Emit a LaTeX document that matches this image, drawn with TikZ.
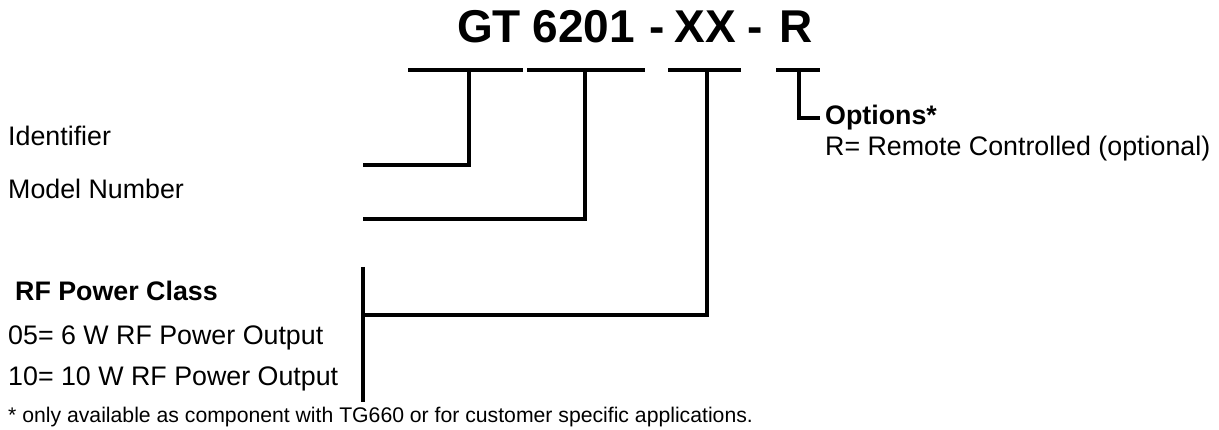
\documentclass[tikz,border=0pt]{standalone}
\usepackage{fontspec}
\setmainfont{Liberation Sans}
\begin{document}
\begin{tikzpicture}[x=1pt,y=-1pt,
  conn/.style={line width=4pt,line join=miter,line cap=butt},
  lbl/.style={inner sep=0pt,anchor=base west,font=\fontsize{26.8}{31}\selectfont},
  lblb/.style={lbl,font=\fontsize{26.8}{31}\selectfont\bfseries},
  foot/.style={inner sep=0pt,anchor=base west,font=\fontsize{21.2}{25}\selectfont},
  ttl/.style={inner sep=0pt,anchor=base,font=\fontsize{46}{50}\selectfont\bfseries}]
\useasboundingbox (0,0) rectangle (1219,430);
% title pieces
\node[ttl] (tGT) at (489,43) {GT};
\node[ttl] (t62) at (584,43) {6201};
\node[ttl] (th1) at (657,43) {-};
\node[ttl] (tXX) at (705,43) {XX};
\node[ttl] (th2) at (755,43) {-};
\node[ttl] (tR) at (796,43) {R};
% bars under title
\coordinate (b1l) at (408,70); \coordinate (b1r) at (523,70);
\coordinate (b2l) at (527,70); \coordinate (b2r) at (645,70);
\coordinate (b3l) at (668,70); \coordinate (b3r) at (741,70);
\coordinate (b4l) at (776,70); \coordinate (b4r) at (820,70);
\draw[conn] (b1l) -- (b1r);
\draw[conn] (b2l) -- (b2r);
\draw[conn] (b3l) -- (b3r);
\draw[conn] (b4l) -- (b4r);
\coordinate (v1) at (469,70);
\coordinate (v2) at (585,70);
\coordinate (v3) at (707,70);
\coordinate (v4) at (799,70);
% labels
\node[lbl] (id) at (8,146) {Identifier};
\node[lbl] (mn) at (8,199) {Model Number};
\node[lblb] (rf) at (15,301) {RF Power Class};
\node[lbl] (p05) at (8,345) {05= 6 W RF Power Output};
\node[lbl] (p10) at (8,385) {10= 10 W RF Power Output};
\node[lblb] (opt) at (825,125) {Options*};
\node[lbl] (rem) at (825,156) {R= Remote Controlled (optional)};
\node[foot] (fn) at (8,423) {* only available as component with TG660 or for customer specific applications.};
% connector end points
\coordinate (idE) at (363,165);
\coordinate (mnE) at (363,219);
\coordinate (rfT) at (363,267);
\coordinate (rfB) at (363,402);
\coordinate (rfE) at (363,315);
\coordinate (optE) at (820,118);
% connectors
\draw[conn] (idE) -| (v1);
\draw[conn] (mnE) -| (v2);
\draw[conn] (rfT) -- (rfB);
\draw[conn] (rfE) -| (v3);
\draw[conn] (optE) -| (v4);
\end{tikzpicture}
\end{document}
